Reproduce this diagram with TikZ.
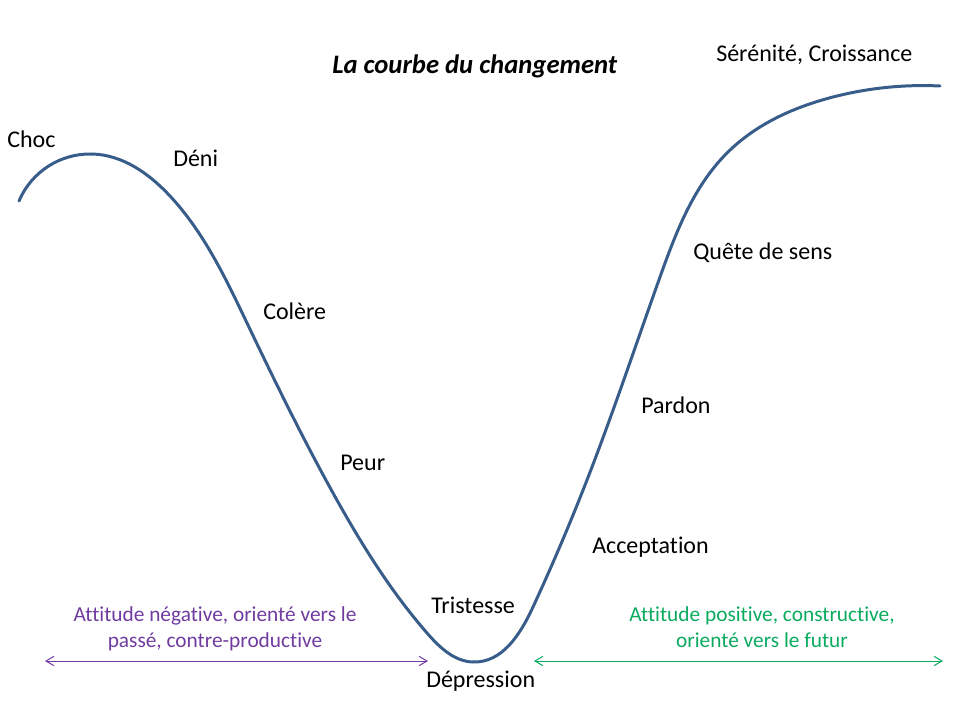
\documentclass[tikz,border=0pt]{standalone}
\usepackage{fontspec}
\setmainfont[Ligatures=NoCommon]{Carlito}
\usepackage{tikz}
\usetikzlibrary{arrows.meta,hobby}

\definecolor{curveblue}{RGB}{56,93,138}
\definecolor{negpurple}{RGB}{112,60,160}
\definecolor{posgreen}{RGB}{10,170,95}

\begin{document}
\begin{tikzpicture}[x=0.75pt,y=-0.75pt,
    label/.style={inner sep=0pt,anchor=base west,font=\fontsize{18}{21.6}\selectfont},
    note/.style={inner sep=0pt,align=center,font=\fontsize{16}{19.5}\selectfont},
    curve/.style={draw=curveblue,line width=2.25pt,line cap=round},
    span/.style={line width=0.75pt,{Straight Barb[length=6pt,width=7pt]}-{Straight Barb[length=6pt,width=7pt]}}]
          \useasboundingbox (0,0) rectangle (960,720);

          \node[label,font=\fontsize{20}{24}\selectfont\bfseries\itshape] (title) at (332,74) {La courbe du changement};

          \coordinate (c0) at (19,201);
          \coordinate (c1) at (92,154);
          \coordinate (c2) at (170,196);
          \coordinate (c3) at (247,323);
          \coordinate (c4) at (333,493);
          \coordinate (c5) at (427,633);
          \coordinate (c6) at (473,662);
          \coordinate (c7) at (533,607);
          \coordinate (c8) at (587,480);
          \coordinate (c9) at (660,277);
          \coordinate (c10) at (727,153);
          \coordinate (c11) at (833,97);
          \coordinate (c12) at (940,86);
          \draw[curve,use Hobby shortcut] (c0) .. (c1) .. (c2) .. (c3) .. (c4) .. (c5) .. (c6) .. (c7) .. (c8) .. (c9) .. (c10) .. (c11) .. (c12);

          \node[label] (choc) at (7,148) {Choc};
          \node[label] (deni) at (173,167) {Déni};
          \node[label] (colere) at (263,320) {Colère};
          \node[label] (peur) at (340,470) {Peur};
          \node[label] (tristesse) at (431,613) {Tristesse};
          \node[label] (depression) at (426,687) {Dépression};
          \node[label] (acceptation) at (592,553) {Acceptation};
          \node[label] (pardon) at (641,413) {Pardon};
          \node[label] (quete) at (693,260) {Quête de sens};
          \node[label] (serenite) at (716,62) {Sérénité, Croissance};

          \node[note,text=negpurple] (neg) at (215,629) {Attitude négative, orienté vers le\\passé, contre-productive};
          \node[note,text=posgreen] (pos) at (762,627) {Attitude positive, constructive,\\orienté vers le futur};

          \coordinate (negL) at (45,661);
          \coordinate (negR) at (428,661);
          \coordinate (posL) at (534,661);
          \coordinate (posR) at (943,661);
          \draw[span,draw=negpurple] (negL) -- (negR);
          \draw[span,draw=posgreen] (posL) -- (posR);
        \end{tikzpicture}
\end{document}
